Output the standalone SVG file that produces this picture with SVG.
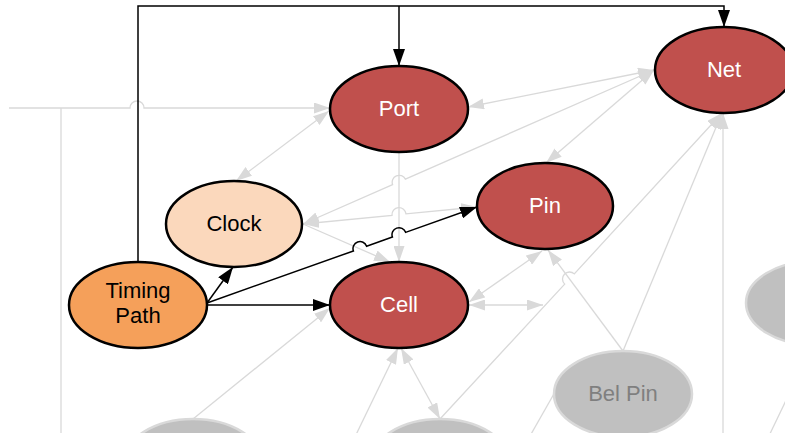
<svg xmlns="http://www.w3.org/2000/svg" width="785" height="433" viewBox="0 0 785 433">
<style>
.g{fill:none;stroke:#d9d9d9;stroke-width:1.3}
.b{fill:none;stroke:#000;stroke-width:1.5}
.ga{marker-end:url(#ag)}
.gs{marker-start:url(#ag)}
.ba{marker-end:url(#ab)}
.red{fill:#c0504d;stroke:#000;stroke-width:2.5}
.gray{fill:#c0c0c0;stroke:#d9d9d9;stroke-width:2.5}
.t{font-family:"Liberation Sans",Arial,sans-serif;font-size:22px;text-anchor:middle}
.tw{fill:#fff}
.tk{fill:#000}
.tg{fill:#7f7f7f}
</style>
<defs>
<marker id="ag" markerUnits="userSpaceOnUse" markerWidth="16" markerHeight="11" viewBox="0 0 16 11" refX="16" refY="5.5" orient="auto-start-reverse"><path d="M0,0 L16,5.5 L0,11 z" fill="#d9d9d9"/></marker>
<marker id="ab" markerUnits="userSpaceOnUse" markerWidth="17" markerHeight="12" viewBox="0 0 17 12" refX="17" refY="6" orient="auto-start-reverse"><path d="M0,0 L17,6 L0,12 z" fill="#000"/></marker>
</defs>
<rect width="785" height="433" fill="#fff"/>
<g id="connectors">
<path class="g ga" d="M9,108 L130,108 A7,7 0 0 1 144,108 L330,108"/>
<path class="g" d="M61,108 L61,433"/>
<path class="g ga gs" d="M236,181 L329,111"/>
<path class="g ga gs" d="M468,107 L654,70"/>
<path class="g ga gs" d="M303,224 L392.6,184.7 A7,7 0 0 1 405.4,179.1 L654,70"/>
<path class="g ga gs" d="M303,224 L392,215.3 A7,7 0 0 1 406,213.9 L477,207"/>
<path class="g ga gs" d="M546,163 L654,70"/>
<path class="g ga" d="M399,152 L399,262"/>
<path class="g ga" d="M303,224 L390,262"/>
<path class="g ga gs" d="M469,302 L542,251"/>
<path class="g ga gs" d="M469,305 L543,305"/>
<path class="g ga" d="M623,351 L548,250"/>
<path class="g ga" d="M623,351 L722,113"/>
<path class="g ga" d="M440,419 L564.7,284.1 A7,7 0 0 1 574.3,273.9 L722,113"/>
<path class="g ga" d="M723,433 L723,113"/>
<path class="g ga" d="M193,419 L330,308"/>
<path class="g ga" d="M352,443 L398,348"/>
<path class="g ga gs" d="M401,348 L440,419"/>
<path class="g" d="M526,443 L555,392"/>
<path class="g" d="M767,440 L790,392"/>
<path class="b ba" d="M138,262 L138,6 L724,6 L724,27"/>
<path class="b ba" d="M399,6 L399,66"/>
<path class="b ba" d="M207,303 L233,267"/>
<path class="b ba" d="M207,305 L330,305"/>
<path class="b ba" d="M207,303 L353.4,250.95 A7,7 0 0 1 366.6,246.25 L392.4,237.05 A7,7 0 0 1 405.6,232.35 L477,207"/>
</g>
<g id="node-port"><ellipse class="red" cx="399" cy="109" rx="69" ry="43"/><text class="t tw" x="399" y="116">Port</text></g>
<g id="node-net"><ellipse class="red" cx="724" cy="70" rx="69" ry="43"/><text class="t tw" x="724" y="77">Net</text></g>
<g id="node-pin"><ellipse class="red" cx="545" cy="206" rx="68" ry="43"/><text class="t tw" x="545" y="213">Pin</text></g>
<g id="node-clock"><ellipse cx="234" cy="224" rx="68" ry="43" fill="#fbd8bc" stroke="#000" stroke-width="2.5"/><text class="t tk" x="234" y="231">Clock</text></g>
<g id="node-timing-path"><ellipse cx="138" cy="305" rx="69" ry="43" fill="#f5a05a" stroke="#000" stroke-width="2.5"/><text class="t tk" x="138" y="298">Timing</text><text class="t tk" x="138" y="323">Path</text></g>
<g id="node-cell"><ellipse class="red" cx="399" cy="305" rx="69" ry="43"/><text class="t tw" x="399" y="312">Cell</text></g>
<g id="node-bel-pin"><ellipse class="gray" cx="623" cy="394" rx="69" ry="43"/><text class="t tg" x="623" y="401">Bel Pin</text></g>
<g id="node-gray-1"><ellipse class="gray" cx="193" cy="462" rx="69" ry="43"/></g>
<g id="node-gray-2"><ellipse class="gray" cx="440" cy="462" rx="69" ry="43"/></g>
<g id="node-gray-3"><ellipse class="gray" cx="815" cy="303" rx="69" ry="42"/></g>
</svg>
